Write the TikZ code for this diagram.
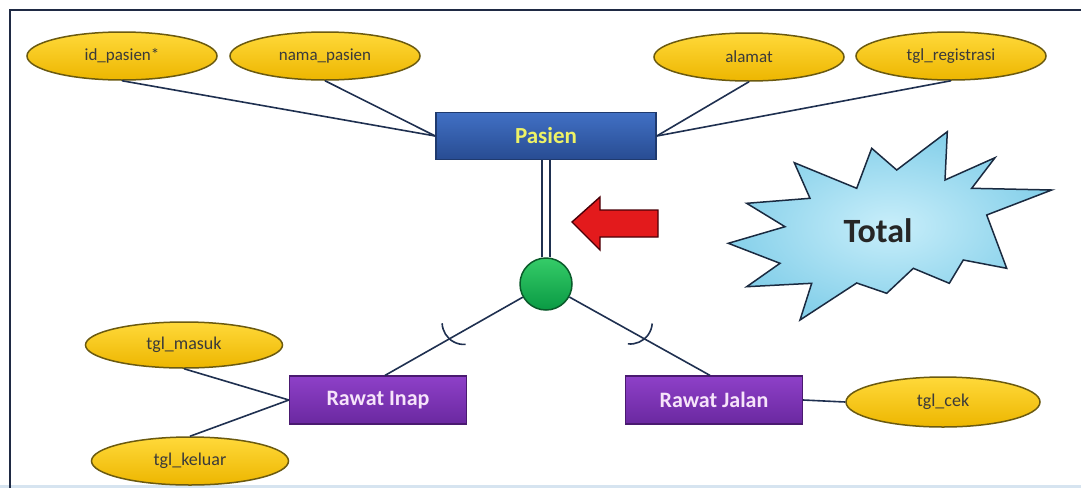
\documentclass[tikz,border=0pt]{standalone}
\usepackage{fontspec}
\setmainfont{Carlito}
\usetikzlibrary{shapes.geometric,calc}
\definecolor{linkcol}{HTML}{1F3050}
\definecolor{attrtop}{HTML}{FFD93A}
\definecolor{attrbot}{HTML}{EDB600}
\definecolor{attrline}{HTML}{6B5A10}
\definecolor{attrtext}{HTML}{3A3A3A}
\definecolor{enttop}{HTML}{4170C4}
\definecolor{entbot}{HTML}{284C92}
\definecolor{entline}{HTML}{1F3A6E}
\definecolor{enttext}{HTML}{EEF266}
\definecolor{subtop}{HTML}{8E40C8}
\definecolor{subbot}{HTML}{6A28A0}
\definecolor{subline}{HTML}{4A1A70}
\definecolor{subtext}{HTML}{F6E4FA}
\definecolor{disctop}{HTML}{35CC68}
\definecolor{discbot}{HTML}{0A9A44}
\definecolor{discline}{HTML}{0A5A2A}
\definecolor{arrfill}{HTML}{E31A1C}
\definecolor{arrline}{HTML}{4A0008}
\definecolor{starin}{HTML}{C8EEFA}
\definecolor{starout}{HTML}{86D0EA}
\definecolor{starline}{HTML}{1A2A40}
\definecolor{framecol}{HTML}{1F2A44}
\definecolor{stripcol}{HTML}{D6E4F0}
\begin{document}
\begin{tikzpicture}[x=1pt,y=-1pt,
  attr/.style={ellipse, draw=attrline, line width=1.5pt, top color=attrtop, bottom color=attrbot,
    minimum width=190pt, minimum height=48pt, inner sep=0pt, text=attrtext,
    font=\fontsize{17}{19}\selectfont},
  entity/.style={rectangle, draw=entline, line width=1.5pt, top color=enttop, bottom color=entbot,
    minimum width=220pt, minimum height=47pt, inner sep=0pt, text=enttext,
    font=\fontsize{23}{26}\selectfont\bfseries},
  subent/.style={rectangle, draw=subline, line width=1.2pt, top color=subtop, bottom color=subbot,
    minimum width=177pt, minimum height=48pt, inner sep=0pt, text=subtext,
    font=\fontsize{22}{25}\selectfont\bfseries},
  disc/.style={circle, draw=discline, line width=1.5pt, top color=disctop, bottom color=discbot,
    minimum size=52pt, inner sep=0pt},
  link/.style={draw=linkcol, line width=1.6pt},
  dbl/.style={draw=linkcol, line width=2pt, double=white, double distance=6pt},
  subarc/.style={draw=linkcol, line width=1.6pt}]
\useasboundingbox (0,0) rectangle (1081,488);
\fill[white] (0,0) rectangle (1081,488);
\fill[stripcol] (0,485) rectangle (1081,488);
\draw[framecol, line width=2.6pt] (10,488) -- (10,10) -- (1081,10);

% attributes of Pasien
\node[attr] (idp) at (122,56) {id\_pasien*};
\node[attr] (nmp) at (325,56) {nama\_pasien};
\node[attr] (alm) at (749,57) {alamat};
\node[attr] (tgr) at (951,56) {tgl\_registrasi};

% superclass
\node[entity] (pas) at (546,136) {Pasien};

% specialisation circle
\node[disc] (cc) at (546,284) {};

% subclasses
\node[subent] (ri) at (378,400) {Rawat Inap};
\node[subent] (rj) at (714,400) {Rawat Jalan};

% attributes of subclasses
\node[attr, minimum width=197pt, minimum height=46pt, font=\fontsize{18}{20}\selectfont] (tms) at (184,345) {tgl\_masuk};
\node[attr, minimum width=197pt, minimum height=48pt, font=\fontsize{18}{20}\selectfont] (tkl) at (190,461) {tgl\_keluar};
\node[attr, minimum width=194pt, minimum height=50pt, font=\fontsize{18}{20}\selectfont] (tck) at (943,402) {tgl\_cek};

% attribute links
\draw[link] (idp.south) -- (pas.west);
\draw[link] (nmp.south) -- (pas.west);
\draw[link] (alm.south) -- (pas.east);
\draw[link] (tgr.south) -- (pas.east);
\draw[link] (tms.south) -- (ri.west);
\draw[link] (tkl.north) -- (ri.west);
\draw[link] (rj.east) -- (tck.west);

% total participation (double line)
\draw[dbl] (pas.south) -- (cc.north);

% links to subclasses
\draw[link] (cc) -- ([xshift=7pt]ri.north);
\draw[link] (cc) -- ([xshift=-4pt]rj.north);

% subset marks, opening towards the circle
\begin{scope}[shift={($(cc.center)!0.6!([xshift=7pt]ri.north)$)}, rotate=48, x=1pt, y=1pt]
  \draw[subarc] (22,0) ++(134:22) arc[start angle=134, end angle=226, radius=22pt];
\end{scope}
\begin{scope}[shift={($(cc.center)!0.6!([xshift=-4pt]rj.north)$)}, rotate=130, x=1pt, y=1pt]
  \draw[subarc] (22,0) ++(134:22) arc[start angle=134, end angle=226, radius=22pt];
\end{scope}

% red pointer arrow
\draw[draw=arrline, line width=1.4pt, fill=arrfill, line join=miter]
  (572,222) -- (600,197) -- (600,210) -- (658,210) -- (658,237) -- (600,237) -- (600,250) -- cycle;

% starburst with its label
\draw[draw=starline, line width=1.5pt, inner color=starin, outer color=starout, line join=miter]
  (794.3,162.7) -- (856.7,188.3) -- (871.7,148.3) -- (896.7,170) -- (947.3,131.7) -- (945,180)
  -- (995,157.7) -- (971.7,188.3) -- (1051.7,190) -- (986.7,215) -- (1006.7,268.3) -- (963.3,260)
  -- (949.3,283.3) -- (913.3,268.3) -- (886.7,293.3) -- (856.7,283) -- (800,320) -- (811.7,283.3)
  -- (746.7,286.7) -- (780,263.3) -- (728.3,243.3) -- (785,226.7) -- (746.7,203.3) -- (810,198.3) -- cycle;
\node[font=\fontsize{34}{38}\selectfont\bfseries, text=black!85] (tot) at (878,231) {Total};
\end{tikzpicture}
\end{document}
